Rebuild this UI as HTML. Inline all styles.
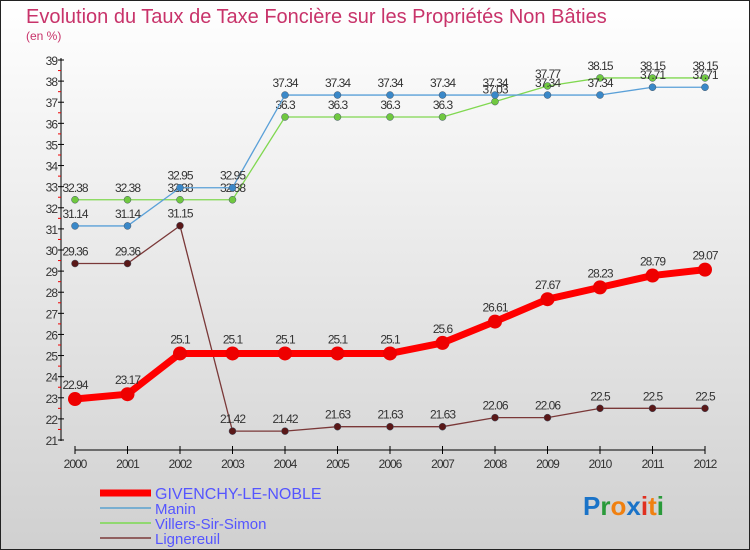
<!DOCTYPE html>
<html><head><meta charset="utf-8"><style>
body{margin:0;width:750px;height:550px;overflow:hidden;font-family:"Liberation Sans",sans-serif;}
svg{display:block}
</style></head><body>
<svg id="chart" width="750" height="550" xmlns="http://www.w3.org/2000/svg">
<defs><linearGradient id="bg" x1="0" y1="0" x2="0" y2="1"><stop offset="0" stop-color="#ffffff"/><stop offset="1" stop-color="#d0d0d0"/></linearGradient></defs>
<rect x="0.5" y="0.5" width="749" height="549" fill="url(#bg)" stroke="#222"/>
<text x="26" y="23" font-size="20" fill="#c8336a">Evolution du Taux de Taxe Foncière sur les Propriétés Non Bâties</text>
<text x="26" y="40" font-size="12" fill="#c8336a">(en %)</text>
<g id="axes"></g><g id="series"></g><g id="legend"></g>
<text x="583" y="515" font-size="26" font-weight="bold"><tspan fill="#1a73c8">P</tspan><tspan fill="#2a9a3a">r</tspan><tspan fill="#f08010">o</tspan><tspan fill="#1a73c8">x</tspan><tspan fill="#e03020">i</tspan><tspan fill="#f08010">t</tspan><tspan fill="#2a9a3a">i</tspan></text>
</svg>
<script>
const years=[2000,2001,2002,2003,2004,2005,2006,2007,2008,2009,2010,2011,2012];
const yTicks=[21,22,23,24,25,26,27,28,29,30,31,32,33,34,35,36,37,38,39];
const givenchy=[22.94,23.17,25.1,25.1,25.1,25.1,25.1,25.6,26.61,27.67,28.23,28.79,29.07];
const manin=[31.14,31.14,32.95,32.95,37.34,37.34,37.34,37.34,37.34,37.34,37.34,37.71,37.71];
const villers=[32.38,32.38,32.38,32.38,36.3,36.3,36.3,36.3,37.03,37.77,38.15,38.15,38.15];
const lignereuil=[29.36,29.36,31.15,21.42,21.42,21.63,21.63,21.63,22.06,22.06,22.5,22.5,22.5];
const seriesNames=["GIVENCHY-LE-NOBLE","Manin","Villers-Sir-Simon","Lignereuil"];
const NS="http://www.w3.org/2000/svg";
const xs=i=>75+i*52.5;
const ys=v=>440-(v-21)*(380/18);
function mk(p,t,a){const e=document.createElementNS(NS,t);for(const k in a)e.setAttribute(k,a[k]);p.appendChild(e);return e;}
const axes=document.getElementById('axes');
mk(axes,'line',{x1:61,y1:58,x2:61,y2:441,stroke:'#000','stroke-width':1});
mk(axes,'line',{x1:75,y1:450,x2:705,y2:450,stroke:'#000','stroke-width':1});
yTicks.forEach(v=>{const y=ys(v);
 mk(axes,'line',{x1:58,y1:y,x2:64,y2:y,stroke:'#000'});
 if(v<39)mk(axes,'line',{x1:58,y1:y-10.55,x2:61,y2:y-10.55,stroke:'#e00'});
 const t=mk(axes,'text',{x:57,y:y+5,'font-size':12,'text-anchor':'end',fill:'#333','letter-spacing':'-1'});t.textContent=v;
 });
years.forEach((yr,i)=>{const x=xs(i);
 mk(axes,'line',{x1:x,y1:446,x2:x,y2:454,stroke:'#000'});
 const t=mk(axes,'text',{x:x,y:468,'font-size':12,'text-anchor':'middle',fill:'#333','letter-spacing':'-1'});t.textContent=yr;
 });
const sg=document.getElementById('series');
const defs=[[givenchy,'#ff0000','#ee0000',7,7],[manin,'#5aa0d8','#3a88c8',1.3,3.5],[villers,'#80d850','#70c840',1.3,3.5],[lignereuil,'#7a3838','#5a1818',1.3,3.5]];
[3,2,1,0].forEach(k=>{const [d,lc,pc,w,r]=defs[k];
 const g=mk(sg,'g',{});
 
 
 mk(g,'polyline',{points:d.map((v,i)=>xs(i)+','+ys(v)).join(' '),fill:'none',stroke:lc,'stroke-width':w,'stroke-linejoin':'round'});
 d.forEach((v,i)=>{const c=mk(g,'circle',{cx:xs(i),cy:ys(v),r:r,fill:pc,stroke:k?'#456':'none','stroke-width':0.5});
  
  const t=mk(g,'text',{x:xs(i),y:ys(v)-(k?8:10),'font-size':12,'text-anchor':'middle',fill:'#333','letter-spacing':'-1'});t.textContent=v;
  });
});
const lg=document.getElementById('legend');
const lw=[7,2,2,2],lcol=['#ff0000','#78aed0','#90d870','#906060'];
seriesNames.forEach((n,k)=>{const y=493+k*15;
 const g=mk(lg,'g',{});
 
 mk(g,'line',{x1:100,y1:y,x2:151,y2:y,stroke:lcol[k],'stroke-width':lw[k]});
 const t=mk(g,'text',{x:155,y:y+6,'font-size':k?15:16,fill:'#5555ff'});t.textContent=n;});
</script>
</body></html>
